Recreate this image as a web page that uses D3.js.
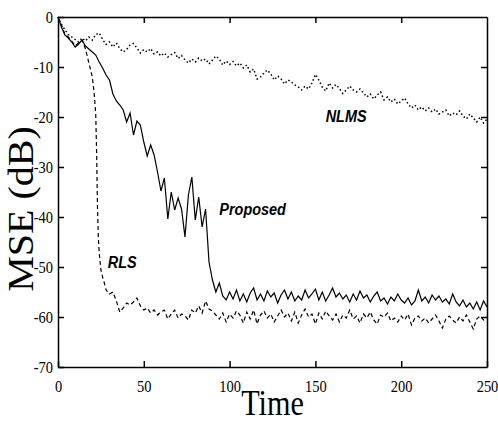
<!DOCTYPE html>
<html lang="en">
<head>
<meta charset="UTF-8">
<title>MSE vs Time</title>
<script src="https://d3js.org/d3.v7.min.js"></script>
<style>
  body {
    margin: 0;
    padding: 0;
    background: #fff;
  }

  svg {
    display: block;
  }

  .axis text {
    font-family: 'Liberation Serif', 'Times New Roman', serif;
    font-size: 17px;
    fill: #000;
  }

  .axis path, .axis line {
    stroke: #000;
    stroke-width: 1.5;
  }

  .title {
    font-family: 'Liberation Serif', 'Times New Roman', serif;
    fill: #000;
  }

  .curve-label {
    font-family: 'Liberation Sans', Arial, sans-serif;
    font-weight: bold;
    font-style: italic;
    font-size: 17px;
    fill: #000;
  }
</style>
</head>
<body>
<svg id="chart" width="498" height="424"></svg>

<script>
  // sample times (every 2 iterations) shared by NLMS and Proposed
  var time = d3.range(0, 251, 2);

  var nlms = [
    0, -1.5, -2.5, -3.5, -4, -4.5, -5, -4.2, -4.8, -4,
    -4.6, -3.5, -3.2, -4.5, -5.5, -5, -6, -5.2, -6.3, -7,
    -6.5, -5.6, -5.3, -6.2, -7.2, -6.5, -7, -6.3, -7.4, -7,
    -7.8, -7.2, -8, -7.5, -7.1, -8.3, -7.7, -8.6, -9.2, -8.4,
    -9, -8.2, -8.8, -8.4, -9.4, -8.6, -7.8, -8.4, -9.6, -8.8,
    -9.5, -8.9, -9.8, -9.2, -10.2, -9.6, -11, -10.4, -12.4, -12,
    -11.2, -10.6, -11.4, -12.6, -11.8, -12.4, -13.4, -12.6, -13, -13.6,
    -14, -14.6, -13.8, -14.4, -13.2, -11.5, -12.6, -14, -14.8, -13.2,
    -14.2, -13.5, -14.3, -15.3, -14.6, -13.8, -14.6, -15, -14.4, -15.2,
    -16, -15.4, -16.4, -15.6, -15, -16.6, -16, -17, -16.4, -17.4,
    -16.8, -16.2, -17.4, -18.2, -17.6, -18.6, -18, -18.8, -18.2, -19,
    -18.4, -19.4, -19, -18.6, -19.8, -19.2, -19.6, -18.8, -19.8, -20.4,
    -19.4, -20.2, -21, -20, -21.2, -20.4
  ];

  var proposed = [
    0, -2, -3.6, -4.2, -5, -6, -5.4, -4.6, -5.8, -6.4,
    -7, -7.6, -9, -10.2, -11.6, -12.6, -15.4, -16.8, -17.6, -18.6,
    -21, -19.2, -23.6, -20.8, -21.6, -25, -27.8, -25.6, -27.6, -31,
    -34.8, -32.2, -40.4, -35, -38.6, -36.2, -38.4, -44, -35.6, -32,
    -40.6, -36, -42, -38.4, -49, -52.6, -55, -53.2, -55.8, -56.6,
    -55, -56.4, -54.6, -56.8, -55.4, -57, -55.2, -54.2, -56.6, -55.4,
    -56.8, -54.8, -56, -55.2, -57.2, -55.6, -54.6, -56.4, -55, -56.8,
    -55.8, -56.6, -54.6, -56.2, -55.4, -54.4, -56.6, -55, -56.8, -55.6,
    -54.2, -56, -55.2, -56.4, -55.6, -57, -55.4, -56.6, -54.8, -56.2,
    -55.6, -57, -55.8, -55, -56.8, -56.2, -57.4, -56, -56.8, -55.4,
    -56.6, -57.2, -56.2, -57.6, -56.8, -54.6, -56.8, -56, -57.2, -55.6,
    -56.6, -55.8, -57, -56.4, -57.4, -55.4, -57, -57.8, -56.6, -58,
    -57.2, -58.4, -57, -58.6, -56.8, -58
  ];

  // RLS needs finer samples where it plunges
  var rlsTime = [0, 2, 4, 6, 8, 10, 12, 14, 16, 18, 20, 21, 22, 22.5, 23, 23.5, 24, 25, 26, 27, 28]
    .concat(d3.range(30, 251, 2));

  var rls = [
    0, -1.6, -3.4, -4, -4.8, -5.8, -5.2, -4.6, -6.4, -9.2,
    -12, -15, -19.5, -27, -38, -44, -47, -50.6, -52, -53.2, -54.6,
    -55.4, -55, -56.8, -59, -58.2, -57.2, -57.6, -57, -56.2, -57.8,
    -58.6, -58.2, -59.2, -58.6, -59.6, -59, -58.6, -60.4, -59.4, -58.6,
    -60.2, -59.4, -59.8, -60.6, -58.6, -59.2, -57.8, -59.2, -56.8, -58.4,
    -58.8, -59.6, -60.4, -59.2, -61, -59.4, -60.2, -58.8, -59.6, -61.2,
    -59, -60.4, -58.6, -61.4, -59.6, -58.8, -60.2, -59.4, -61, -59.8,
    -58.6, -60, -59.2, -60.8, -59, -61.2, -59.6, -58.4, -60, -59.4,
    -61.4, -59.2, -60.4, -58.8, -59.8, -60.6, -59.4, -61, -59.6, -60.2,
    -58.6, -60.4, -59.8, -61.2, -59.4, -60.2, -59, -60.6, -61.4, -59.6,
    -60, -59.2, -60.8, -60.2, -61, -59.8, -60.6, -59.4, -61.6, -60.2,
    -59.8, -60.8, -60.2, -61.2, -60.4, -59.6, -60.8, -62.2, -60.4, -59.8,
    -60.6, -61.2, -60, -60.8, -59.6, -61, -62.4, -60.4, -59.8, -60.6,
    -60.4
  ];

  var xTicks = [0, 50, 100, 150, 200, 250];
  var yTicks = [0, -10, -20, -30, -40, -50, -60, -70];
  var xInner = [50, 100, 150, 200];
  var yInner = [-10, -20, -30, -40, -50, -60];

  var margin = {top: 17, right: 11, bottom: 57, left: 58};
  var width = 498 - margin.left - margin.right;
  var height = 424 - margin.top - margin.bottom;

  var svg = d3.select('#chart');
  var g = svg.append('g')
    .attr('transform', 'translate(' + [margin.left, margin.top] + ')');

  var x = d3.scaleLinear().domain([0, 250]).range([0, width]);
  var y = d3.scaleLinear().domain([-70, 0]).range([height, 0]);

  var squeeze = 'scale(0.85,1)';

  // axes with inward ticks
  g.append('g')
    .attr('class', 'axis')
    .attr('transform', 'translate(0,' + height + ')')
    .call(d3.axisBottom(x).tickValues(xTicks).tickSize(-6).tickSizeOuter(0).tickPadding(13))
    .selectAll('text').attr('transform', squeeze);

  g.append('g')
    .attr('class', 'axis')
    .call(d3.axisLeft(y).tickValues(yTicks).tickSize(-6).tickSizeOuter(0).tickPadding(6)
      .tickFormat(function(d) { return d === 0 ? '0' : '-' + Math.abs(d); }))
    .selectAll('text').attr('transform', squeeze);

  g.append('g')
    .attr('class', 'axis')
    .call(d3.axisTop(x).tickValues(xInner).tickSize(-6).tickSizeOuter(0).tickFormat(''));

  g.append('g')
    .attr('class', 'axis')
    .attr('transform', 'translate(' + width + ',0)')
    .call(d3.axisRight(y).tickValues(yInner).tickSize(-6).tickSizeOuter(0).tickFormat(''));

  var line = d3.line()
    .x(function(d) { return x(d[0]); })
    .y(function(d) { return y(d[1]); });

  g.append('path')
    .datum(d3.zip(time, nlms))
    .attr('fill', 'none')
    .attr('stroke', '#000')
    .attr('stroke-width', 1.5)
    .attr('stroke-dasharray', '1.5,2.5')
    .attr('d', line);

  g.append('path')
    .datum(d3.zip(rlsTime, rls))
    .attr('fill', 'none')
    .attr('stroke', '#000')
    .attr('stroke-width', 1.2)
    .attr('stroke-dasharray', '4,3')
    .attr('d', line);

  g.append('path')
    .datum(d3.zip(time, proposed))
    .attr('fill', 'none')
    .attr('stroke', '#000')
    .attr('stroke-width', 1.2)
    .attr('d', line);

  // curve labels
  var labels = [
    {text: 'NLMS', t: 156, v: -21},
    {text: 'Proposed', t: 94, v: -39.6},
    {text: 'RLS', t: 29, v: -50.2}
  ];
  g.selectAll('text.curve-label')
    .data(labels).enter().append('text')
    .attr('class', 'curve-label')
    .attr('transform', function(d) {
      return 'translate(' + [x(d.t), y(d.v)] + ')' + squeeze;
    })
    .text(function(d) { return d.text; });

  // axis titles
  svg.append('text')
    .attr('class', 'title')
    .attr('text-anchor', 'middle')
    .attr('font-size', 40)
    .attr('transform', 'translate(33,209)rotate(-90)scale(1,0.88)')
    .text('MSE (dB)');

  svg.append('text')
    .attr('class', 'title')
    .attr('text-anchor', 'middle')
    .attr('font-size', 36)
    .attr('transform', 'translate(' + (margin.left + width / 2) + ',415)scale(0.84,1)')
    .text('Time');
</script>
</body>
</html>
